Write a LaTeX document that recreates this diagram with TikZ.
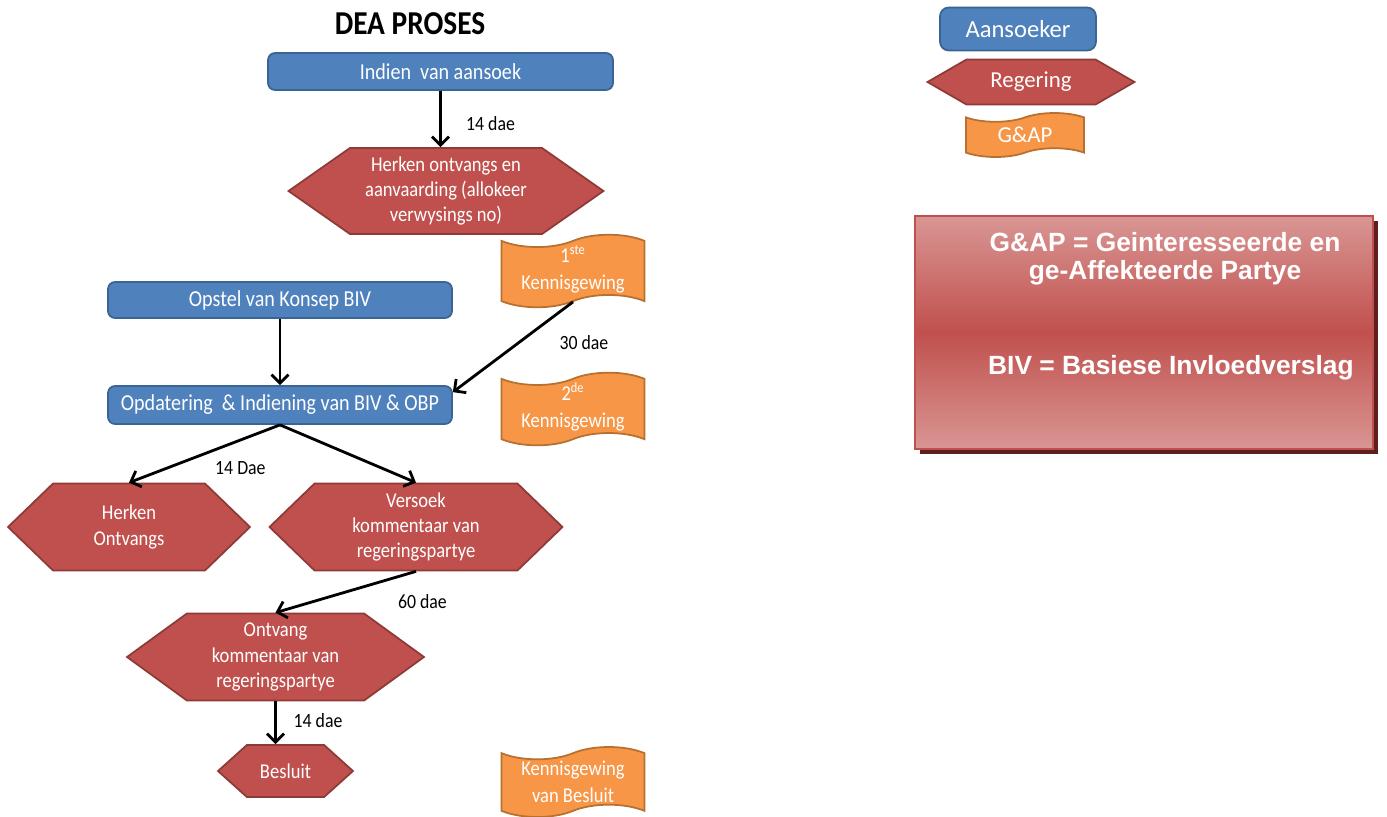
\documentclass[tikz,border=0pt]{standalone}
\usepackage{fontspec}
\setmainfont{Carlito}[FakeStretch=0.88]
\newfontfamily\keyfont{Carlito}
\newfontfamily\notefont{Liberation Sans}
\usetikzlibrary{shapes.symbols,shapes.geometric,arrows.meta,positioning,calc,shadows}

\definecolor{aansBlue}{HTML}{4F81BD}
\definecolor{aansLine}{HTML}{3A6493}
\definecolor{regRed}{HTML}{C0504D}
\definecolor{regLine}{HTML}{8E3A37}
\definecolor{gapOrange}{HTML}{F79646}
\definecolor{gapLine}{HTML}{B7702F}
\definecolor{noteLight}{HTML}{D99694}
\definecolor{noteShadow}{HTML}{5E1F1E}

\begin{document}
\begin{tikzpicture}[
    x=0.02cm, y=-0.02cm,
    aansoek/.style={rectangle, rounded corners=4pt, draw=aansLine, line width=1pt, fill=aansBlue,
        text=white, font=\fontsize{13}{15}\selectfont, minimum width=6.9cm, minimum height=0.74cm, inner sep=1pt},
    regering/.style={signal, signal to=east and west, draw=regLine, line width=1pt, fill=regRed,
        text=white, font=\fontsize{12}{14.5}\selectfont, align=center, inner sep=1pt},
    gap/.style={tape, draw=gapLine, line width=1pt, fill=gapOrange, text=white,
        font=\fontsize{12}{15.5}\selectfont, align=center, inner sep=1pt,
        tape bend height=7pt, minimum width=2.86cm, minimum height=1.34cm},
    lbl/.style={font=\fontsize{11.5}{13}\selectfont, inner sep=1pt},
    arrow/.style={-{Straight Barb[length=1.7mm,width=3.4mm]}, line width=1.6pt}
]
    \useasboundingbox (0,0) rectangle (1387,816);

    % process
    \node[font=\bfseries\fontsize{19}{22}\selectfont] (title) at (410,24) {DEA PROSES};
    \node[aansoek] (indien) at (440.5,71.5) {Indien\ \ van aansoek};
    \node[regering, minimum width=6.3cm, minimum height=1.72cm, signal pointer angle=70] (erken) at (446,191)
        {Herken ontvangs en\\aanvaarding (allokeer\\verwysings no)};
    \node[gap] (kenn1) at (573,271) {1\smash{\textsuperscript{ste}}\\Kennisgewing};
    \node[aansoek, minimum width=6.88cm, minimum height=0.72cm] (opstel) at (280,300) {Opstel van Konsep BIV};
    \node[aansoek, minimum width=6.88cm, minimum height=0.76cm] (opdatering) at (280,405)
        {Opdatering\ \ \& Indiening van BIV \& OBP};
    \node[gap] (kenn2) at (573,409) {2\smash{\textsuperscript{de}}\\Kennisgewing};
    \node[regering, minimum width=4.84cm, minimum height=1.74cm, signal pointer angle=88] (herken) at (129,527)
        {Herken\\Ontvangs};
    \node[regering, minimum width=5.86cm, minimum height=1.74cm, signal pointer angle=88] (versoek) at (416,527)
        {Versoek\\kommentaar van\\regeringspartye};
    \node[regering, minimum width=5.94cm, minimum height=1.74cm, signal pointer angle=72] (ontvang) at (275.5,657)
        {Ontvang\\kommentaar van\\regeringspartye};
    \node[regering, minimum width=2.7cm, minimum height=1.04cm, signal pointer angle=84] (besluit) at (285.5,771)
        {Besluit};
    \node[gap] (kennbes) at (573,782) {Kennisgewing\\van Besluit};

    \draw[arrow] (indien.south) -- node[lbl, pos=0.58, right=0.45cm] (d14a) {14 dae} (indien.south |- erken.north);
    \draw[arrow] (opstel) -- (opdatering);
    \draw[arrow] (kenn1.south) -- node[lbl, pos=0.45, right=0.75cm] (d30) {30 dae} ([yshift=-0.14cm]opdatering.north east);
    \draw[arrow] (opdatering.south) -- node[lbl, pos=0.45, below right=0.15cm and 0cm] (d14b) {14 Dae} (herken.north);
    \draw[arrow] (opdatering.south) -- (versoek.north);
    \draw[arrow] (versoek.south) -- node[lbl, pos=0.15, below right=0.28cm and 0cm] (d60) {60 dae} (ontvang.north);
    \draw[arrow] (ontvang.south) -- node[lbl, pos=0.45, right=0.3cm] (d14c) {14 dae} (ontvang.south |- besluit.north);

    % legend
    \node[aansoek, font=\keyfont\fontsize{14}{16}\selectfont, minimum width=3.12cm, minimum height=0.86cm,
        rounded corners=5pt] (keyaans) at (1018,29) {Aansoeker};
    \node[regering, font=\keyfont\fontsize{13}{15}\selectfont, minimum width=4.14cm, minimum height=0.9cm,
        signal pointer angle=60] (keyreg) at (1031,82) {Regering};
    \node[gap, font=\keyfont\fontsize{13}{15}\selectfont, minimum width=2.36cm, minimum height=0.88cm,
        tape bend height=5pt] (keygap) at (1025,135) {G\&AP};

    \node[draw=regRed, line width=1.2pt, top color=noteLight, bottom color=noteLight, middle color=regRed,
        minimum width=9.16cm, minimum height=4.66cm,
        drop shadow={shadow xshift=0.1cm, shadow yshift=-0.1cm, fill=noteShadow, opacity=1}] (notebox) at (1144,332.5) {};
    \node[text=white, font=\notefont\bfseries\fontsize{15}{16}\selectfont, align=center] (notegap) at (1165,259)
        {G\&AP = Geinteresseerde en\\ge-Affekteerde Partye};
    \node[text=white, font=\notefont\bfseries\fontsize{15}{16}\selectfont, anchor=west] (notebiv) at (982,368)
        {BIV = Basiese Invloedverslag};
\end{tikzpicture}
\end{document}
